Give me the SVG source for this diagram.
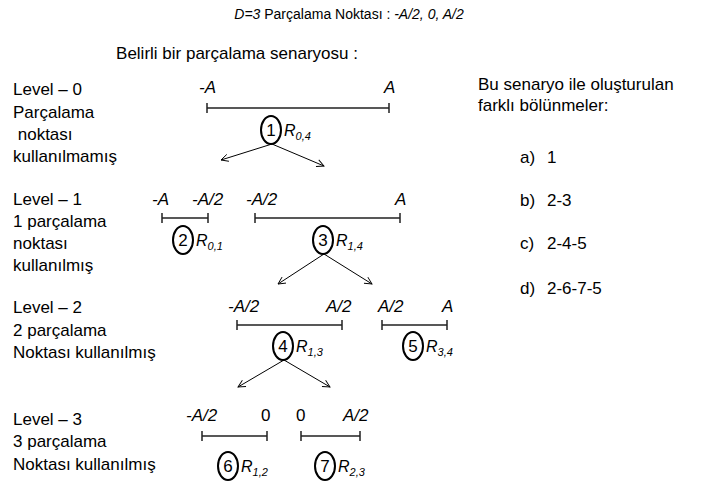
<svg xmlns="http://www.w3.org/2000/svg" width="702" height="481" viewBox="0 0 702 481">
<style>
text{font-family:"Liberation Sans",Arial,sans-serif;fill:#000;}
.t{font-size:17px;}
.title{font-size:14px;}
.i{font-style:italic;}
.lbl{font-size:17px;font-style:italic;}
.r{font-size:16px;font-style:italic;}
.sub{font-size:11px;font-style:italic;}
.num{font-size:17px;text-anchor:middle;}
.seg{stroke:#222;stroke-width:1.5;fill:none;}
.circ{stroke:#000;stroke-width:2;fill:none;}
.arr{stroke:#000;stroke-width:1;fill:none;marker-end:url(#ah);}
</style>
<defs>
<marker id="ah" viewBox="0 0 10 10" refX="9" refY="5" markerWidth="9" markerHeight="9" markerUnits="userSpaceOnUse" orient="auto">
<path d="M1,1 L9,5 L1,9" fill="none" stroke="#000" stroke-width="1"/>
</marker>
</defs>
<g id="title">
<text class="title" x="349" y="19" text-anchor="middle"><tspan class="i">D=3</tspan> Parçalama Noktası : <tspan class="i">-A/2, 0, A/2</tspan></text>
<text class="t" x="237" y="59" text-anchor="middle">Belirli bir parçalama senaryosu :</text>
</g>
<g id="levels">
<text class="t" x="13" y="95">Level – 0</text>
<text class="t" x="13" y="118">Parçalama</text>
<text class="t" x="13" y="140" xml:space="preserve"> noktası</text>
<text class="t" x="13" y="162">kullanılmamış</text>
<text class="t" x="13" y="205">Level – 1</text>
<text class="t" x="13" y="227">1 parçalama</text>
<text class="t" x="13" y="249">noktası</text>
<text class="t" x="13" y="271">kullanılmış</text>
<text class="t" x="13" y="313">Level – 2</text>
<text class="t" x="13" y="336">2 parçalama</text>
<text class="t" x="13" y="358">Noktası kullanılmış</text>
<text class="t" x="13" y="425">Level – 3</text>
<text class="t" x="13" y="447">3 parçalama</text>
<text class="t" x="13" y="470">Noktası kullanılmış</text>
</g>
<g id="right">
<text class="t" x="478" y="90">Bu senaryo ile oluşturulan</text>
<text class="t" x="478" y="111">farklı bölünmeler:</text>
<text class="t" x="520" y="163">a)</text><text class="t" x="547" y="163">1</text>
<text class="t" x="520" y="206">b)</text><text class="t" x="547" y="206">2-3</text>
<text class="t" x="520" y="249">c)</text><text class="t" x="547" y="249">2-4-5</text>
<text class="t" x="520" y="294">d)</text><text class="t" x="547" y="294">2-6-7-5</text>
</g>
<g id="n1">
<text class="lbl" x="199" y="93">-A</text>
<text class="lbl" x="384" y="93">A</text>
<path class="seg" d="M207,108 H389 M207,103 V113 M389,103 V113"/>
<ellipse class="circ" cx="271" cy="130" rx="10" ry="14"/>
<text class="num" x="271" y="136">1</text>
<text class="r" x="284" y="136">R<tspan class="sub" dy="4">0,4</tspan></text>
</g>
<g id="n2">
<text class="lbl" x="152" y="205">-A</text>
<text class="lbl" x="192" y="205">-A/2</text>
<path class="seg" d="M162,218 H208 M162,213 V223 M208,213 V223"/>
<ellipse class="circ" cx="183" cy="240" rx="10" ry="14"/>
<text class="num" x="183" y="246">2</text>
<text class="r" x="196" y="246">R<tspan class="sub" dy="4">0,1</tspan></text>
</g>
<g id="n3">
<text class="lbl" x="246" y="205">-A/2</text>
<text class="lbl" x="395" y="205">A</text>
<path class="seg" d="M255,218 H400 M255,213 V223 M400,213 V223"/>
<ellipse class="circ" cx="323" cy="240" rx="10" ry="14"/>
<text class="num" x="323" y="246">3</text>
<text class="r" x="336" y="246">R<tspan class="sub" dy="4">1,4</tspan></text>
</g>
<g id="n4">
<text class="lbl" x="228" y="312">-A/2</text>
<text class="lbl" x="326" y="312">A/2</text>
<path class="seg" d="M237,325 H342 M237,320 V330 M342,320 V330"/>
<ellipse class="circ" cx="283" cy="346" rx="10" ry="14"/>
<text class="num" x="283" y="352">4</text>
<text class="r" x="296" y="352">R<tspan class="sub" dy="4">1,3</tspan></text>
</g>
<g id="n5">
<text class="lbl" x="378" y="312">A/2</text>
<text class="lbl" x="442" y="312">A</text>
<path class="seg" d="M382,325 H447 M382,320 V330 M447,320 V330"/>
<ellipse class="circ" cx="413" cy="346" rx="10" ry="14"/>
<text class="num" x="413" y="352">5</text>
<text class="r" x="426" y="352">R<tspan class="sub" dy="4">3,4</tspan></text>
</g>
<g id="n6">
<text class="lbl" x="186" y="421">-A/2</text>
<text class="t" x="261" y="421">0</text>
<path class="seg" d="M202,436 H267 M202,431 V441 M267,431 V441"/>
<ellipse class="circ" cx="228" cy="466" rx="10" ry="14"/>
<text class="num" x="228" y="472">6</text>
<text class="r" x="241" y="472">R<tspan class="sub" dy="4">1,2</tspan></text>
</g>
<g id="n7">
<text class="t" x="296" y="421">0</text>
<text class="lbl" x="343" y="421">A/2</text>
<path class="seg" d="M301,436 H360 M301,431 V441 M360,431 V441"/>
<ellipse class="circ" cx="325" cy="466" rx="10" ry="14"/>
<text class="num" x="325" y="472">7</text>
<text class="r" x="338" y="472">R<tspan class="sub" dy="4">2,3</tspan></text>
</g>
<g id="connectors">
<line class="arr" x1="272" y1="144" x2="221" y2="160"/>
<line class="arr" x1="272" y1="144" x2="324" y2="166"/>
<line class="arr" x1="324" y1="254" x2="278" y2="284"/>
<line class="arr" x1="324" y1="254" x2="372" y2="284"/>
<line class="arr" x1="284" y1="360" x2="238" y2="387"/>
<line class="arr" x1="284" y1="360" x2="330" y2="387"/>
</g>
</svg>
